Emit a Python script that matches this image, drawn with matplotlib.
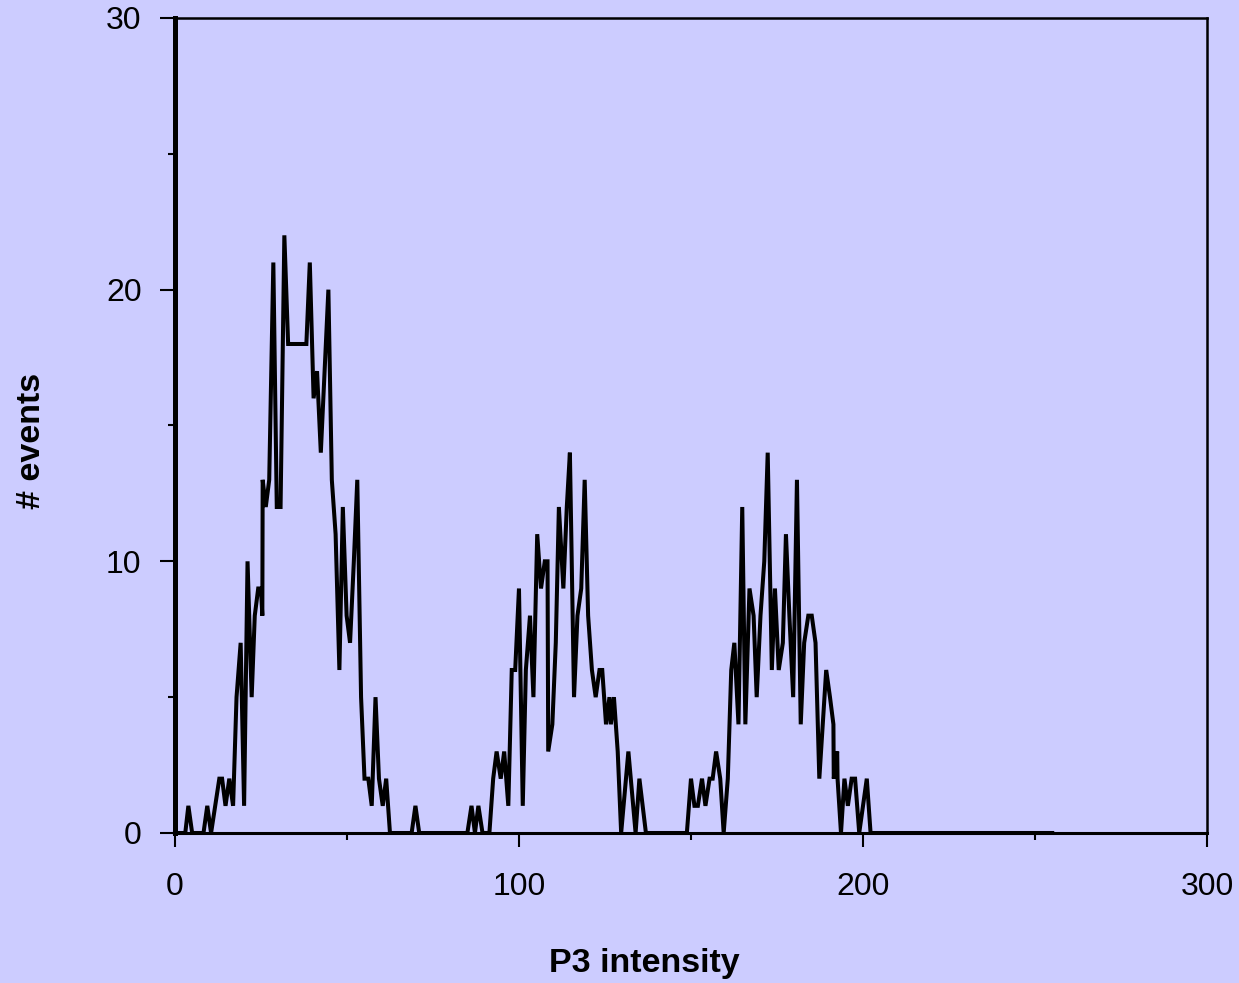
import matplotlib
matplotlib.use('Agg')
import matplotlib.pyplot as plt
from matplotlib.ticker import MultipleLocator

plt.rcParams['font.family'] = ['Liberation Sans', 'DejaVu Sans']

# histogram trace (P3 intensity, # events)
p3 = [0, 3.0, 3.9, 5.0, 8.3, 9.4, 10.5, 12.9, 13.7, 14.7, 15.8, 16.9, 17.9,
      19.1, 20.1, 21.1, 22.3, 23.2, 24.2, 25.0, 25.4, 25.5, 26.4, 27.4, 28.6,
      29.6, 30.7, 31.8, 32.9, 34.0, 35.0, 36.1, 37.1, 38.2, 39.2, 40.3, 41.3,
      42.4, 44.6, 45.6, 46.7, 47.8, 48.8, 49.9, 50.9, 52.0, 53.0, 54.1, 55.1,
      56.2, 57.2, 58.3, 59.3, 60.4, 61.4, 62.5, 68.8, 69.9, 71.0,
      85.0, 86.2, 87.2, 88.2, 89.4, 91.4, 92.5, 93.5, 94.7, 95.7, 96.9, 97.9,
      98.9, 100.0, 101.1, 102.0, 103.2, 104.2, 105.3, 106.4, 107.5, 108.3,
      108.5, 109.7, 110.7, 111.6, 112.9, 113.9, 114.8, 116.0, 117.0, 118.1,
      119.1, 120.1, 121.2, 122.3, 123.4, 124.2, 125.3, 126.3, 126.7, 127.6,
      128.7, 129.7, 131.8, 133.9, 135.0, 136.9,
      148.8, 150.0, 151.0, 152.0, 153.2, 154.2, 155.4, 156.3, 157.3, 158.5,
      159.5, 160.7, 161.7, 162.6, 163.8, 164.9, 165.8, 167.0, 168.2, 169.1,
      170.2, 171.3, 172.3, 173.5, 174.4, 175.5, 176.7, 177.6, 178.6, 179.7,
      180.8, 181.9, 182.9, 184.1, 185.1, 186.2, 187.3, 189.3, 190.4, 191.4,
      191.5, 192.5, 192.6, 193.6, 194.6, 195.6, 196.7, 197.7, 198.9, 201.1,
      202.2, 255.0]
events = [0, 0, 1, 0, 0, 1, 0, 2, 2, 1, 2, 1, 5,
          7, 1, 10, 5, 8, 9, 9, 8, 13, 12, 13, 21,
          12, 12, 22, 18, 18, 18, 18, 18, 18, 21, 16, 17,
          14, 20, 13, 11, 6, 12, 8, 7, 10, 13, 5, 2,
          2, 1, 5, 2, 1, 2, 0, 0, 1, 0,
          0, 1, 0, 1, 0, 0, 2, 3, 2, 3, 1, 6,
          6, 9, 1, 6, 8, 5, 11, 9, 10, 10,
          3, 4, 7, 12, 9, 12, 14, 5, 8, 9,
          13, 8, 6, 5, 6, 6, 4, 5, 4, 5,
          3, 0, 3, 0, 2, 0,
          0, 2, 1, 1, 2, 1, 2, 2, 3, 2,
          0, 2, 6, 7, 4, 12, 4, 9, 8, 5,
          8, 10, 14, 6, 9, 6, 7, 11, 8, 5,
          13, 4, 7, 8, 8, 7, 2, 6, 5, 4,
          2, 3, 2, 0, 2, 1, 2, 2, 0, 2,
          0, 0]

bg = '#CCCCFF'
fig = plt.figure(figsize=(12.39, 9.83), dpi=100, facecolor=bg)
ax = fig.add_axes([0.1412, 0.1526, 0.8330, 0.8291], facecolor=bg)

ax.plot(p3, events, color='black', lw=2.9, solid_joinstyle='miter', zorder=3,
        clip_on=False)

ax.set_xlim(0, 300)
ax.set_ylim(0, 30)
ax.xaxis.set_major_locator(MultipleLocator(100))
ax.xaxis.set_minor_locator(MultipleLocator(50))
ax.yaxis.set_major_locator(MultipleLocator(10))
ax.yaxis.set_minor_locator(MultipleLocator(5))

ax.tick_params(which='major', direction='out', length=10, width=1.5,
               labelsize=23, color='black')
ax.tick_params(axis='x', which='major', pad=18)
ax.tick_params(axis='y', which='major', length=11, pad=13)
ax.tick_params(which='minor', direction='out', length=5, width=1.5)

ax.spines['left'].set_linewidth(3.6)
ax.spines['bottom'].set_linewidth(2.2)
ax.spines['top'].set_linewidth(1.8)
ax.spines['right'].set_linewidth(1.8)

ax.set_xlabel('P3 intensity', fontsize=24.5, fontweight='bold')
ax.set_ylabel('# events', fontsize=24.5, fontweight='bold')
ax.xaxis.set_label_coords(0.455, -0.141)
ax.yaxis.set_label_coords(-0.124, 0.481)

plt.savefig('out.png', dpi=100, facecolor=bg)
